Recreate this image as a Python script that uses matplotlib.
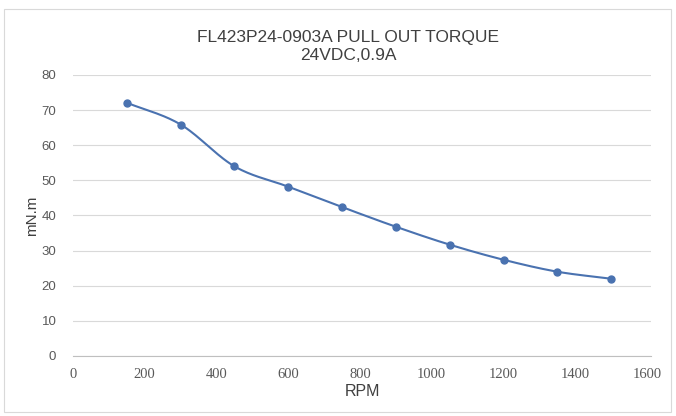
import numpy as np
import matplotlib
matplotlib.use("Agg")
import matplotlib.pyplot as plt
from matplotlib.patches import Rectangle

# data
rpm = [150, 300, 450, 600, 750, 900, 1050, 1200, 1350, 1500]
torque = [72.1, 65.9, 54.0, 48.2, 42.4, 36.8, 31.7, 27.4, 24.0, 22.0]
x_ticks = [0, 200, 400, 600, 800, 1000, 1200, 1400, 1600]
y_ticks = [0, 10, 20, 30, 40, 50, 60, 70, 80]

title = "FL423P24-0903A PULL OUT TORQUE\n24VDC,0.9A"
line_col = "#4a72b0"
tick_col = "#595959"


def smooth(xs, ys, n=30):
    """Catmull-Rom curve through the points, like Excel's smoothed line"""
    xs = np.asarray(xs, float)
    ys = np.asarray(ys, float)
    px = np.concatenate([[2 * xs[0] - xs[1]], xs, [2 * xs[-1] - xs[-2]]])
    py = np.concatenate([[2 * ys[0] - ys[1]], ys, [2 * ys[-1] - ys[-2]]])
    out_x, out_y = [], []
    t = np.linspace(0, 1, n)
    for i in range(1, len(px) - 2):
        for p, out in ((px, out_x), (py, out_y)):
            p0, p1, p2, p3 = p[i - 1], p[i], p[i + 1], p[i + 2]
            out.extend(0.5 * (2 * p1 + (-p0 + p2) * t
                              + (2 * p0 - 5 * p1 + 4 * p2 - p3) * t ** 2
                              + (-p0 + 3 * p1 - 3 * p2 + p3) * t ** 3))
    return out_x, out_y


fig = plt.figure(figsize=(6.76, 4.16), dpi=100)
fig.patch.set_facecolor("white")
fig.patches.append(Rectangle((4 / 676, 4 / 416), 667 / 676, 403 / 416,
                             transform=fig.transFigure, fill=False,
                             edgecolor="#d9d9d9", linewidth=0.8))

ax = fig.add_axes([73 / 676, 60 / 416, 578 / 676, 281 / 416])
sx, sy = smooth(rpm, torque)
ax.plot(sx, sy, color=line_col, linewidth=1.5, zorder=3)
ax.plot(rpm, torque, "o", color=line_col, markersize=5, zorder=4)

ax.set_xlim(0, 1600 * 578 / 574)
ax.set_ylim(0, 80)
ax.set_xticks(x_ticks)
ax.set_yticks(y_ticks)
ax.set_xticklabels([str(v) for v in x_ticks], family="Liberation Serif",
                   fontsize=10.5, color=tick_col)
ax.set_yticklabels([str(v) for v in y_ticks], family="Liberation Sans",
                   fontsize=9.5, color=tick_col)
ax.tick_params(axis="x", length=0, pad=9)
ax.tick_params(axis="y", length=0, pad=12)
ax.grid(axis="y", color="#d9d9d9", linewidth=0.8)
ax.set_axisbelow(True)
for side in ["top", "right", "left"]:
    ax.spines[side].set_visible(False)
ax.spines["bottom"].set_color("#bfbfbf")

ax.set_xlabel("RPM", family="Liberation Sans", fontsize=11.5, color="#404040", labelpad=2)
ax.set_ylabel("mN.m", family="Liberation Sans", fontsize=11, color="#404040", labelpad=2)
fig.text(0.515, 0.888, title, ha="center", va="center", family="Liberation Sans",
         fontsize=12.5, color="#404040", linespacing=1.3)

fig.savefig("out.png", dpi=100)
